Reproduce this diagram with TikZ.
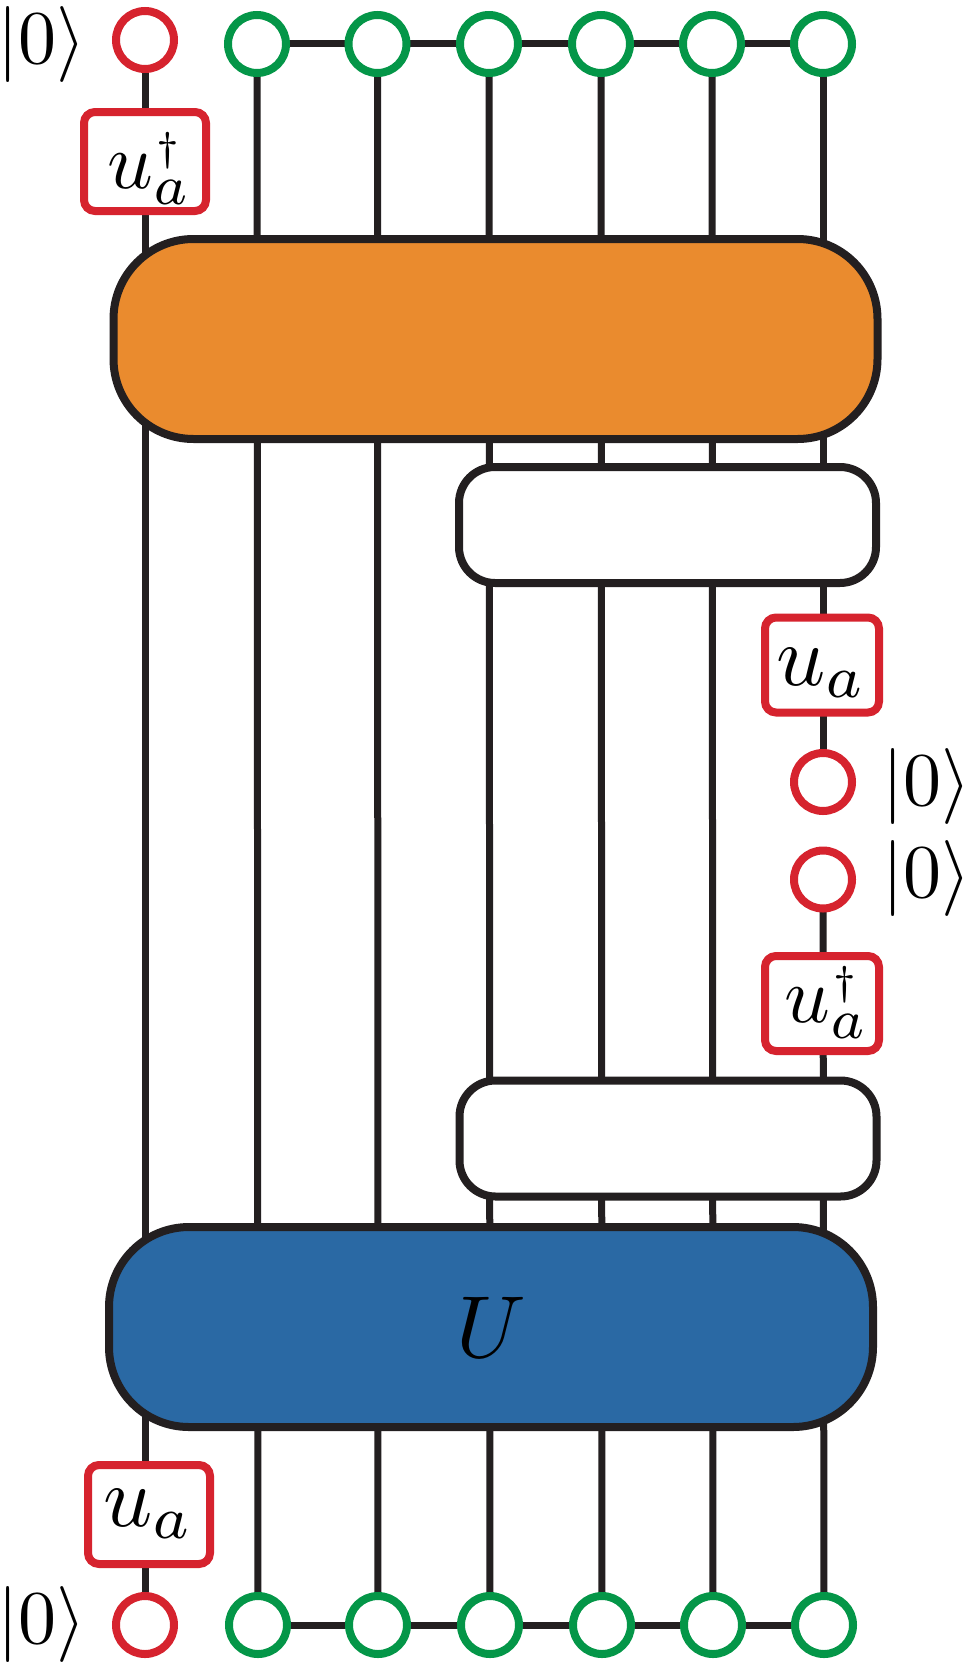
\documentclass[tikz,border=0pt]{standalone}
\usetikzlibrary{backgrounds}
\definecolor{cOrange}{RGB}{234,139,46}
\definecolor{cBlue}{RGB}{42,105,164}
\definecolor{cRed}{RGB}{214,35,46}
\definecolor{cGreen}{RGB}{4,150,72}
\definecolor{cInk}{RGB}{35,31,32}
\newcommand{\sizedmath}[2]{\scalebox{#1}{$#2$}}
\newcommand{\uadag}{\scalebox{8}{$u\rlap{\raisebox{-2.1pt}{$\scriptstyle a$}}\makebox[3.7pt]{\raisebox{3.5pt}{$\scriptscriptstyle\dagger$}}$}}
\begin{document}
\begin{tikzpicture}[x=1pt,y=-1pt,
  wire/.style={draw=cInk,line width=7pt},
  qubit/.style={circle,draw=#1,line width=8pt,fill=white,minimum size=58pt,inner sep=0pt,outer sep=0pt},
  gatebox/.style={rectangle,rounded corners=11pt,draw=cRed,line width=8pt,fill=white,minimum width=122pt,minimum height=99pt,inner sep=0pt,outer sep=0pt,text depth=0pt},
  rgatebox/.style={gatebox,minimum width=114pt,minimum height=95pt},
  bigblock/.style={rectangle,rounded corners=80pt,draw=cInk,line width=8pt,fill=#1,minimum width=764pt,minimum height=200pt,inner sep=0pt,outer sep=0pt},
  smallblock/.style={rectangle,rounded corners=36pt,draw=cInk,line width=8pt,fill=white,minimum width=417pt,minimum height=116pt,inner sep=0pt,outer sep=0pt},
  ket/.style={inner sep=0pt,outer sep=0pt}]
\useasboundingbox (0,0) rectangle (968,1670);
% top row
\node[qubit=cRed] (tl) at (145,40) {};
\node[ket] (k1) at (42,44.5) {\sizedmath{7.6}{|0\rangle}};
\node[qubit=cGreen] (t2) at (257,44) {};
\node[qubit=cGreen] (t3) at (377.5,44) {};
\node[qubit=cGreen] (t4) at (489,44) {};
\node[qubit=cGreen] (t5) at (601,44) {};
\node[qubit=cGreen] (t6) at (712,44) {};
\node[qubit=cGreen] (t7) at (823,44) {};
% bottom row
\node[qubit=cRed] (bl) at (145,1625) {};
\node[ket] (k4) at (42,1624.5) {\sizedmath{7.6}{|0\rangle}};
\node[qubit=cGreen] (b2) at (258,1625) {};
\node[qubit=cGreen] (b3) at (378,1625) {};
\node[qubit=cGreen] (b4) at (490,1625) {};
\node[qubit=cGreen] (b5) at (602,1625) {};
\node[qubit=cGreen] (b6) at (713,1625) {};
\node[qubit=cGreen] (b7) at (824,1625) {};
% gates
\node[gatebox,text height=53pt] (g1) at (145,161.5) {\uadag};
\node[bigblock=cOrange] (V) at (495.5,339) {};
\node[smallblock] (w1) at (667.5,525) {};
\node[rgatebox,text height=40pt] (g2) at (822,665) {\sizedmath{8.6}{u_a}};
\node[qubit=cRed] (r1) at (823,782) {};
\node[ket] (k2) at (927,786) {\sizedmath{7.6}{|0\rangle}};
\node[qubit=cRed] (r2) at (823,879.5) {};
\node[ket] (k3) at (927,878.5) {\sizedmath{7.6}{|0\rangle}};
\node[rgatebox,text height=37pt] (g3) at (822,1003.5) {\uadag};
\node[smallblock] (w2) at (668,1138.5) {};
\node[bigblock=cBlue] (U) at (491,1327) {\sizedmath{8.8}{U}};
\node[gatebox,text height=23pt] (g4) at (149,1514.5) {\sizedmath{8.6}{u_a}};
% wires
\begin{scope}[on background layer]
\fill[white] (0,0) rectangle (968,1670);
\draw[wire] (tl) -- (bl);
\draw[wire] (t2) -- (b2);
\draw[wire] (t3) -- (b3);
\draw[wire] (t4) -- (b4);
\draw[wire] (t5) -- (b5);
\draw[wire] (t6) -- (b6);
\draw[wire] (t7) -- (r1);
\draw[wire] (r2) -- (b7);
\draw[wire] (t2) -- (t7);
\draw[wire] (b2) -- (b7);
\end{scope}
\end{tikzpicture}
\end{document}
